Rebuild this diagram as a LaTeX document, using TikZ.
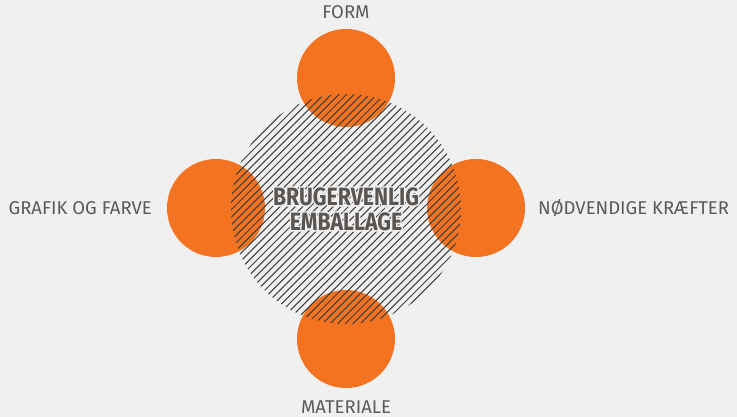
\documentclass[tikz,border=0pt]{standalone}
\usepackage{fontspec}
\setmainfont{Fira Sans}
\definecolor{bg}{HTML}{F0F0F0}
\definecolor{org}{HTML}{F47321}
\definecolor{txt}{HTML}{5A5A5A}
\definecolor{hatch}{HTML}{3C3C3C}
\definecolor{ctxt}{HTML}{5B5552}
\newcommand{\hubwords}{\scalebox{0.85}[1]{BRUGERVENLIG}\\\scalebox{0.85}[1]{EMBALLAGE}}
\begin{document}
\begin{tikzpicture}[x=1pt,y=1pt,
  petal/.style={circle,fill=org,minimum size=98pt,inner sep=0pt},
  lbl/.style={text=txt,font=\fontsize{18.5}{18.5}\selectfont,inner sep=0pt},
  ctr/.style={font=\fontsize{25}{25}\selectfont\bfseries,align=center,inner sep=0pt}]
\fill[bg] (0,0) rectangle (737,417);
\useasboundingbox (0,0) rectangle (737,417);
\node[petal] (top) at (346,339) {};
\node[petal] (left) at (216,209) {};
\node[petal] (right) at (476,209) {};
\node[petal] (bottom) at (346,78) {};
\node[circle,minimum size=230pt,inner sep=0pt] (hub) at (346,208) {};
\begin{scope}
\clip (hub.center) circle (115pt);
\foreach \i in {-40,...,40}
  \draw[hatch,line width=1pt] ({346+\i*7.6-140},68) -- ({346+\i*7.6+140},348);
\end{scope}
\node[ctr,text=bg] (halo) at (hub.center) {\special{pdf:literal direct 2 Tr 3 w 0.941 G}\hubwords\special{pdf:literal direct 0 Tr}};
\node[ctr,text=ctxt] (hubtext) at (hub.center) {\hubwords};
\node[lbl,anchor=base] (lform) at (346,398) {FORM};
\node[lbl,anchor=base] (lmat) at (346,3.5) {MATERIALE};
\node[lbl,anchor=base east] (lgraf) at (152,202) {GRAFIK OG FARVE};
\node[lbl,anchor=base west] (lnod) at (538,202) {NØDVENDIGE KRÆFTER};
\end{tikzpicture}
\end{document}
